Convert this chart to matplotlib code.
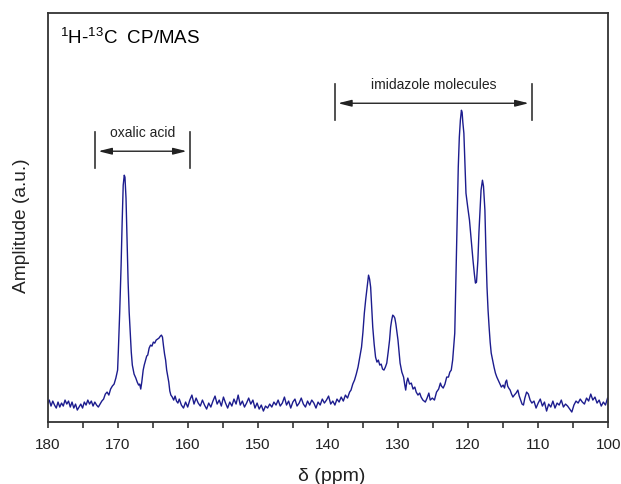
import matplotlib
matplotlib.use('Agg')
import matplotlib.pyplot as plt
from matplotlib.ticker import MultipleLocator

plt.rcParams['font.family'] = ['Liberation Sans', 'DejaVu Sans']
plt.rcParams['mathtext.default'] = 'regular'

# spectrum, split by region (ppm, amplitude a.u.)
base_left_ppm = [180.0, 179.75, 179.5, 179.25, 179.0, 178.75, 178.5, 178.25, 178.0, 177.75,
                 177.5, 177.25, 177.0, 176.75, 176.5, 176.25, 176.0, 175.75, 175.5, 175.25,
                 175.0, 174.75, 174.5, 174.25, 174.0, 173.75, 173.5, 173.25, 173.0, 172.75,
                 172.5, 172.25, 172.0, 171.75, 171.5, 171.25, 171.0, 170.75, 170.5, 170.25]
base_left_amp = [18, 22, 16, 21, 17, 14, 20, 15, 19, 16,
                 22, 18, 21, 15, 20, 14, 18, 12, 15, 18,
                 14, 20, 17, 22, 18, 21, 16, 20, 17, 15,
                 18, 21, 23, 28, 30, 27, 33, 36, 38, 44]

oxalic_ppm = [170.0, 169.9, 169.7, 169.5, 169.35, 169.2, 169.05, 168.95, 168.8, 168.65,
              168.5, 168.35, 168.2, 168.05, 167.9, 167.65, 167.4, 167.2, 167.0, 166.85,
              166.7, 166.55, 166.35, 166.2, 166.0, 165.85, 165.7, 165.5, 165.3, 165.1,
              164.9, 164.7, 164.5, 164.3, 164.1, 163.9, 163.75, 163.6, 163.45, 163.3,
              163.15, 163.0, 162.85, 162.7, 162.55, 162.4, 162.2, 162.0, 161.8, 161.6, 161.4]
oxalic_amp = [52, 70, 110, 157, 200, 237, 247, 245, 224, 180,
              140, 110, 90, 70, 57, 48, 44, 40, 37, 38,
              33, 40, 52, 57, 62, 66, 67, 74, 77, 76,
              80, 79, 82, 83, 84, 86, 87, 85, 76, 68,
              62, 52, 46, 40, 31, 27, 25, 22, 26, 21, 19]

base_mid_ppm = [161.2, 160.9, 160.6, 160.3, 160.0, 159.7, 159.4, 159.1, 158.8, 158.5,
                158.2, 157.9, 157.6, 157.3, 157.0, 156.7, 156.4, 156.1, 155.8, 155.5,
                155.2, 154.9, 154.6, 154.3, 154.0, 153.7, 153.4, 153.1, 152.8, 152.5,
                152.2, 151.9, 151.6, 151.3, 151.0, 150.7, 150.4, 150.1, 149.8, 149.5,
                149.2, 148.9, 148.6, 148.3, 148.0, 147.7, 147.4, 147.1, 146.8, 146.5,
                146.2, 145.9, 145.6, 145.3, 145.0, 144.7, 144.4, 144.1, 143.8, 143.5,
                143.2, 142.9, 142.6, 142.3, 142.0, 141.7, 141.4, 141.1, 140.8, 140.5,
                140.2, 139.9, 139.6, 139.3, 139.0, 138.7, 138.4, 138.1, 137.8, 137.5, 137.2]
base_mid_amp = [23, 17, 14, 20, 15, 22, 27, 18, 24, 19,
                16, 22, 17, 13, 19, 15, 21, 26, 18, 22,
                16, 25, 19, 14, 20, 16, 23, 18, 27, 17,
                21, 15, 19, 24, 18, 22, 14, 19, 13, 17,
                11, 16, 14, 18, 15, 20, 17, 22, 16, 19,
                25, 17, 21, 14, 20, 23, 16, 19, 24, 18,
                15, 21, 17, 22, 19, 14, 20, 17, 23, 19,
                22, 26, 18, 21, 17, 23, 20, 25, 21, 27, 24]

imid_ppm = [136.9, 136.7, 136.45, 136.2, 135.95, 135.7, 135.45, 135.2, 135.0, 134.8,
            134.6, 134.4, 134.2, 134.05, 133.9, 133.75, 133.6, 133.4, 133.2, 133.0,
            132.8, 132.6, 132.4, 132.2, 132.0, 131.8, 131.6, 131.4, 131.2, 131.05,
            130.9, 130.75, 130.6, 130.45, 130.3, 130.15, 130.0, 129.85, 129.7, 129.45,
            129.2, 129.05, 128.9, 128.75, 128.6, 128.35, 128.1, 127.85, 127.6, 127.4,
            127.15, 126.9, 126.7, 126.45, 126.1, 125.85, 125.6, 125.4, 125.1, 124.8,
            124.5, 124.2, 123.95, 123.8, 123.55, 123.3, 123.05, 122.8, 122.6, 122.4,
            122.2, 122.05, 121.9, 121.8, 121.7, 121.55, 121.4, 121.25, 121.1, 120.95,
            120.85, 120.75, 120.6, 120.45, 120.3, 120.05, 119.8, 119.55, 119.3, 119.1,
            118.95, 118.8, 118.6, 118.45, 118.3, 118.15, 117.95, 117.8, 117.6, 117.45,
            117.3, 117.15, 117.0, 116.85, 116.7, 116.5, 116.3, 116.1, 115.9, 115.7,
            115.5, 115.25, 115.0, 114.8, 114.65, 114.5, 114.35, 114.2, 114.0, 113.8,
            113.6, 113.4, 113.15, 112.9, 112.7, 112.5, 112.3, 112.1, 111.9, 111.65,
            111.4, 111.15, 110.9]
imid_amp = [30, 32, 38, 42, 48, 55, 65, 75, 90, 109,
            123, 135, 147, 143, 135, 115, 95, 78, 65, 60,
            62, 57, 58, 53, 52, 55, 59, 70, 82, 95,
            102, 107, 106, 104, 98, 90, 82, 70, 59, 50,
            45, 38, 32, 40, 44, 38, 39, 33, 35, 30,
            27, 29, 25, 22, 20, 24, 29, 22, 24, 22,
            30, 33, 39, 36, 34, 38, 45, 45, 50, 52,
            62, 75, 89, 120, 155, 205, 255, 285, 302, 312,
            310, 300, 289, 260, 229, 215, 202, 182, 162, 148,
            139, 140, 162, 190, 212, 232, 242, 236, 212, 170,
            135, 112, 95, 80, 69, 62, 55, 49, 45, 42,
            39, 35, 37, 34, 40, 42, 36, 34, 32, 28,
            25, 27, 29, 32, 26, 22, 18, 17, 24, 30,
            28, 22, 19]

base_right_ppm = [110.6, 110.3, 110.0, 109.7, 109.4, 109.1, 108.8, 108.5, 108.2, 107.9,
                  107.6, 107.3, 107.0, 106.7, 106.4, 106.1, 105.8, 105.5, 105.2, 104.9,
                  104.6, 104.3, 104.0, 103.7, 103.4, 103.1, 102.8, 102.5, 102.2, 101.9,
                  101.6, 101.3, 101.0, 100.7, 100.4, 100.1]
base_right_amp = [21, 14, 19, 23, 16, 20, 11, 18, 15, 21,
                  14, 19, 17, 22, 15, 18, 16, 13, 10, 17,
                  21, 19, 23, 20, 18, 24, 21, 28, 22, 25,
                  19, 22, 16, 20, 17, 24]

ppm = base_left_ppm + oxalic_ppm + base_mid_ppm + imid_ppm + base_right_ppm
amp = base_left_amp + oxalic_amp + base_mid_amp + imid_amp + base_right_amp

# range brackets: label, left ppm, right ppm, bracket height
range_labels = ['oxalic acid', 'imidazole molecules']
range_left = [173.2, 139.0]
range_right = [159.7, 110.9]
range_level = [271, 319]

fig = plt.figure(figsize=(6.21, 4.84), dpi=100)
ax = fig.add_axes([0.0765, 0.128, 0.903, 0.8445])

ax.plot(ppm, amp, color='#1c1c8e', lw=1.0)

ax.set_xlim(180, 100)
ax.set_ylim(0, 409)
ax.set_xticks(range(180, 99, -10))
ax.xaxis.set_minor_locator(MultipleLocator(5))
ax.tick_params(axis='x', which='both', direction='out', length=4.5, width=1.2,
               color='#333333', labelsize=11, pad=7, labelcolor='#222222')
ax.set_yticks([])
for s in ax.spines.values():
    s.set_linewidth(1.3)
    s.set_color('#333333')

ax.set_xlabel('δ (ppm)', fontsize=14, va='center', color='#222222')
ax.xaxis.set_label_coords(0.506, -0.132)
ax.set_ylabel('Amplitude (a.u.)', fontsize=13.8, va='center', color='#222222')
ax.yaxis.set_label_coords(-0.046, 0.48)

ax.text(0.022, 0.925, '$^{1}$H-$^{13}$C  CP/MAS', transform=ax.transAxes,
        fontsize=13.5, va='baseline', ha='left')

for lab, x0, x1, yl in zip(range_labels, range_left, range_right, range_level):
    ax.plot([x0, x0], [yl - 17, yl + 19], color='#333333', lw=1.2)
    ax.plot([x1, x1], [yl - 17, yl + 19], color='#333333', lw=1.2)
    ax.annotate('', xy=(x0 - 0.45, yl), xytext=(x1 + 0.45, yl),
                arrowprops=dict(arrowstyle='<|-|>,head_length=0.8,head_width=0.2',
                                color='#222222', lw=1.0, shrinkA=0, shrinkB=0,
                                mutation_scale=10))
    ax.text((x0 + x1) / 2, yl + 14, lab, fontsize=10, ha='center', va='baseline',
            color='#222222')

fig.savefig('out.png', dpi=100)
